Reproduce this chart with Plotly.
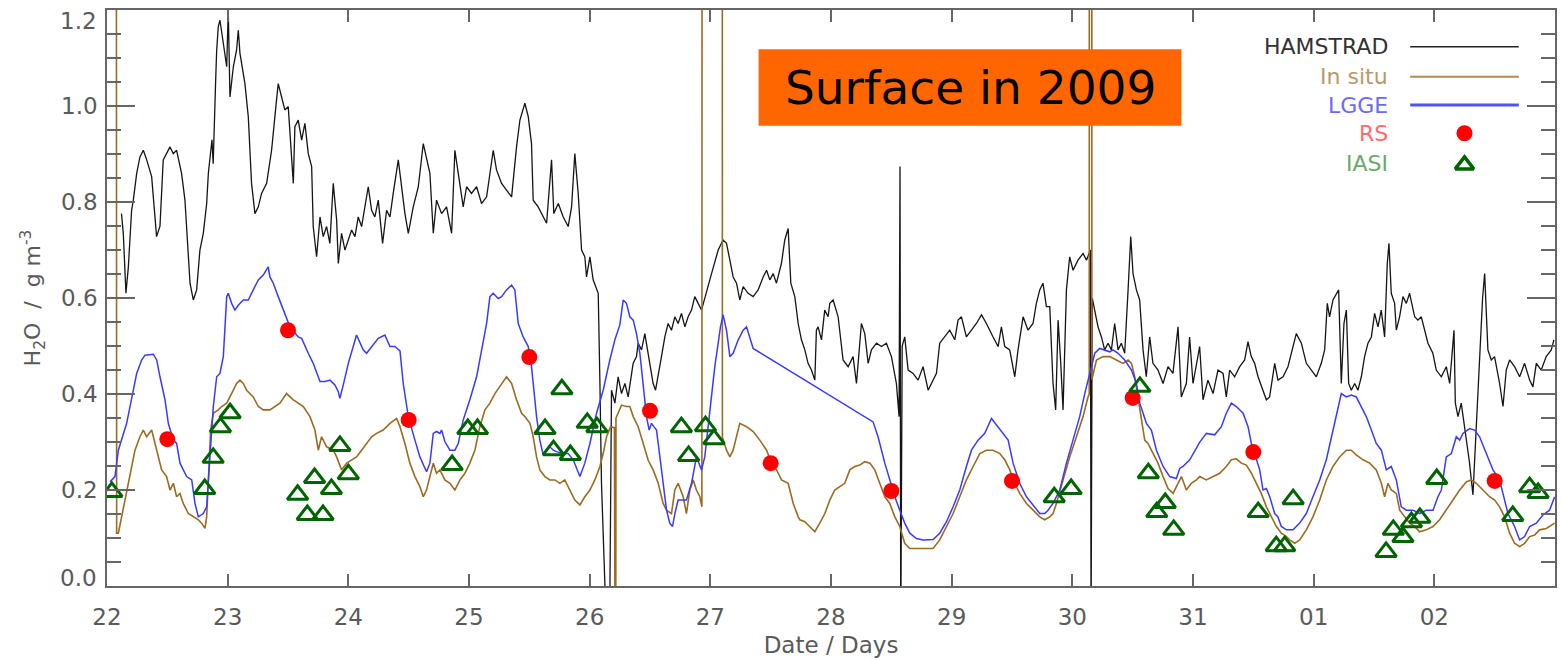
import plotly.graph_objects as go

# ---------------- data (days since start of month, g m-3) ----------------
ham_day = [22.12,22.135,22.157,22.177,22.204,22.218,22.246,22.273,22.301,22.329,22.37,22.411,22.439,22.466,22.522,22.549,22.577,22.618,22.646,22.688,22.715,22.743,22.77,22.798,22.826,22.84,22.87,22.88,22.9,22.909,22.922,22.936,22.964,22.992,23.005,23.019,23.047,23.074,23.088,23.102,23.143,23.171,23.198,23.226,23.254,23.281,23.323,23.364,23.405,23.419,23.447,23.474,23.502,23.53,23.544,23.557,23.585,23.613,23.64,23.668,23.696,23.709,23.737,23.765,23.792,23.82,23.847,23.875,23.903,23.917,23.944,23.972,23.999,24.027,24.055,24.082,24.11,24.138,24.165,24.193,24.22,24.248,24.284,24.317,24.345,24.372,24.414,24.469,24.497,24.538,24.58,24.621,24.648,24.676,24.704,24.731,24.773,24.814,24.856,24.883,24.911,24.952,24.98,25.021,25.063,25.104,25.146,25.201,25.228,25.27,25.311,25.353,25.394,25.422,25.463,25.491,25.518,25.532,25.573,25.615,25.643,25.684,25.703,25.74,25.781,25.822,25.85,25.877,25.905,25.933,25.96,25.974,26.002,26.029,26.057,26.071,26.085,26.098,26.14,26.165,26.181,26.209,26.236,26.264,26.292,26.319,26.36,26.388,26.402,26.43,26.457,26.479,26.499,26.526,26.546,26.568,26.595,26.623,26.65,26.678,26.706,26.733,26.761,26.789,26.816,26.844,26.871,26.899,26.927,27.01,27.065,27.106,27.134,27.162,27.189,27.217,27.244,27.272,27.313,27.355,27.396,27.438,27.466,27.493,27.521,27.548,27.589,27.617,27.645,27.667,27.7,27.728,27.755,27.783,27.81,27.838,27.866,27.879,27.893,27.921,27.948,27.976,27.99,28.018,28.059,28.1,28.142,28.183,28.211,28.252,28.28,28.308,28.335,28.377,28.418,28.459,28.501,28.542,28.564,28.572,28.578,28.59,28.611,28.639,28.68,28.722,28.763,28.805,28.832,28.874,28.901,28.943,28.984,29.026,29.053,29.081,29.122,29.164,29.205,29.247,29.288,29.343,29.385,29.412,29.44,29.481,29.523,29.55,29.592,29.633,29.674,29.702,29.73,29.757,29.785,29.813,29.84,29.862,29.882,29.904,29.923,29.951,29.978,30.006,30.047,30.089,30.117,30.15,30.155,30.165,30.186,30.213,30.241,30.268,30.296,30.324,30.351,30.379,30.406,30.434,30.462,30.484,30.503,30.531,30.558,30.586,30.613,30.641,30.668,30.71,30.752,30.793,30.834,30.876,30.903,30.945,30.972,31.0,31.055,31.083,31.124,31.166,31.207,31.249,31.276,31.304,31.345,31.387,31.428,31.456,31.483,31.511,31.539,31.58,31.608,31.635,31.677,31.704,31.746,31.787,31.829,31.856,31.898,31.939,31.981,32.022,32.063,32.091,32.113,32.132,32.16,32.188,32.207,32.229,32.251,32.271,32.29,32.312,32.34,32.367,32.395,32.422,32.45,32.478,32.505,32.533,32.56,32.588,32.61,32.624,32.643,32.671,32.685,32.712,32.74,32.768,32.795,32.837,32.864,32.892,32.92,32.947,32.988,33.016,33.058,33.099,33.127,33.163,33.174,33.196,33.223,33.25,33.29,33.32,33.34,33.37,33.4,33.417,33.444,33.472,33.499,33.541,33.569,33.596,33.624,33.665,33.707,33.748,33.79,33.817,33.845,33.886,33.927,33.969,33.991]
ham_val = [0.776,0.735,0.61,0.665,0.783,0.804,0.86,0.894,0.908,0.888,0.853,0.728,0.75,0.888,0.915,0.901,0.908,0.86,0.804,0.631,0.596,0.617,0.7,0.735,0.797,0.86,0.93,0.88,1.05,1.117,1.165,1.179,1.131,1.082,1.2,1.019,1.082,1.117,1.158,1.11,1.047,0.978,0.839,0.776,0.79,0.818,0.839,0.908,1.013,1.047,1.019,0.992,0.999,0.888,0.839,0.957,0.971,0.929,0.964,0.901,0.874,0.749,0.686,0.769,0.728,0.749,0.714,0.839,0.763,0.672,0.735,0.7,0.721,0.742,0.728,0.769,0.749,0.79,0.832,0.783,0.769,0.804,0.714,0.783,0.769,0.818,0.888,0.776,0.735,0.79,0.832,0.922,0.888,0.86,0.735,0.804,0.776,0.79,0.735,0.908,0.86,0.79,0.832,0.818,0.832,0.797,0.811,0.908,0.867,0.839,0.825,0.811,0.915,0.971,1.006,0.978,0.922,0.804,0.79,0.769,0.756,0.888,0.776,0.797,0.769,0.749,0.79,0.901,0.818,0.7,0.686,0.644,0.686,0.638,0.617,0.61,0.422,0.214,-0.1,-0.1,0.408,0.381,0.436,0.401,0.422,0.394,0.464,0.478,0.506,0.492,0.526,0.492,0.464,0.422,0.408,0.436,0.478,0.519,0.547,0.533,0.561,0.547,0.568,0.54,0.561,0.575,0.603,0.589,0.575,0.651,0.7,0.721,0.714,0.679,0.644,0.631,0.596,0.624,0.61,0.603,0.617,0.644,0.658,0.638,0.651,0.631,0.672,0.721,0.745,0.631,0.603,0.547,0.513,0.492,0.464,0.45,0.429,0.533,0.54,0.513,0.575,0.561,0.589,0.596,0.561,0.471,0.457,0.478,0.422,0.547,0.526,0.464,0.492,0.506,0.499,0.506,0.478,0.422,0.353,0.874,-0.1,0.5,0.519,0.45,0.443,0.429,0.457,0.408,0.422,0.443,0.506,0.519,0.533,0.513,0.554,0.561,0.519,0.533,0.547,0.565,0.547,0.519,0.499,0.54,0.499,0.492,0.436,0.492,0.561,0.533,0.547,0.589,0.617,0.631,0.582,0.582,0.422,0.367,0.554,0.464,0.367,0.617,0.686,0.658,0.679,0.693,0.679,0.7,-0.1,0.6,0.575,0.54,0.519,0.492,0.506,0.492,0.547,0.492,0.506,0.485,0.617,0.728,0.651,0.617,0.596,0.492,0.436,0.519,0.464,0.45,0.422,0.457,0.443,0.54,0.394,0.422,0.519,0.422,0.499,0.388,0.429,0.401,0.45,0.443,0.394,0.45,0.436,0.457,0.471,0.509,0.478,0.464,0.436,0.408,0.388,0.394,0.464,0.429,0.436,0.457,0.499,0.526,0.506,0.464,0.45,0.436,0.464,0.492,0.589,0.561,0.596,0.61,0.617,0.422,0.547,0.575,0.422,0.408,0.422,0.408,0.436,0.478,0.506,0.519,0.568,0.54,0.575,0.519,0.672,0.714,0.61,0.589,0.533,0.561,0.603,0.589,0.61,0.561,0.554,0.561,0.533,0.506,0.485,0.45,0.436,0.457,0.422,0.533,0.381,0.353,0.381,0.33,0.26,0.19,0.3,0.45,0.6,0.651,0.492,0.471,0.478,0.422,0.374,0.45,0.471,0.457,0.436,0.464,0.429,0.415,0.464,0.45,0.478,0.492,0.513]

insitu_day = [22.075,22.08,22.094,22.121,22.163,22.204,22.232,22.273,22.301,22.329,22.37,22.398,22.425,22.453,22.494,22.522,22.55,22.577,22.605,22.632,22.674,22.715,22.757,22.784,22.812,22.826,22.84,22.859,22.881,22.922,22.95,22.992,23.047,23.074,23.102,23.129,23.157,23.212,23.254,23.295,23.35,23.392,23.433,23.488,23.516,23.544,23.585,23.627,23.682,23.723,23.751,23.778,23.82,23.875,23.903,23.944,23.986,24.027,24.068,24.11,24.151,24.193,24.234,24.289,24.345,24.4,24.428,24.469,24.51,24.552,24.593,24.621,24.648,24.676,24.704,24.731,24.759,24.8,24.842,24.883,24.925,24.966,25.007,25.049,25.09,25.132,25.173,25.215,25.256,25.311,25.353,25.394,25.436,25.463,25.505,25.532,25.56,25.587,25.629,25.67,25.712,25.753,25.794,25.836,25.877,25.919,25.96,26.002,26.043,26.085,26.112,26.14,26.173,26.205,26.207,26.215,26.218,26.223,26.264,26.305,26.333,26.361,26.402,26.444,26.485,26.526,26.568,26.609,26.637,26.678,26.706,26.733,26.775,26.802,26.83,26.858,26.885,26.913,26.93,26.933,27.098,27.1,27.134,27.162,27.189,27.244,27.3,27.355,27.41,27.466,27.508,27.549,27.59,27.645,27.687,27.728,27.742,27.783,27.824,27.866,27.907,27.949,27.99,28.031,28.073,28.114,28.156,28.197,28.239,28.28,28.322,28.363,28.404,28.446,28.487,28.529,28.57,28.611,28.653,28.694,28.736,28.791,28.846,28.901,28.957,29.012,29.067,29.122,29.178,29.233,29.288,29.343,29.399,29.44,29.482,29.523,29.564,29.62,29.675,29.73,29.771,29.813,29.84,29.868,29.923,29.978,30.034,30.089,30.13,30.14,30.142,30.16,30.162,30.2,30.255,30.31,30.365,30.42,30.462,30.49,30.517,30.545,30.572,30.6,30.627,30.669,30.71,30.752,30.793,30.835,30.876,30.904,30.945,30.986,31.028,31.056,31.111,31.166,31.221,31.276,31.318,31.359,31.401,31.442,31.484,31.525,31.566,31.608,31.649,31.691,31.732,31.774,31.801,31.843,31.884,31.939,31.994,32.05,32.105,32.16,32.215,32.271,32.312,32.353,32.409,32.464,32.519,32.561,32.588,32.616,32.643,32.685,32.713,32.754,32.795,32.837,32.878,32.933,32.989,33.044,33.099,33.154,33.21,33.265,33.306,33.348,33.403,33.458,33.5,33.541,33.582,33.624,33.665,33.707,33.748,33.79,33.831,33.872,33.928,33.969,33.997]
insitu_val = [3.0,0.11,0.11,0.144,0.2,0.249,0.283,0.311,0.325,0.311,0.325,0.297,0.269,0.242,0.228,0.2,0.214,0.186,0.193,0.172,0.151,0.144,0.138,0.131,0.12,0.144,0.214,0.325,0.36,0.367,0.374,0.381,0.408,0.422,0.429,0.422,0.408,0.394,0.374,0.367,0.367,0.374,0.381,0.401,0.394,0.388,0.381,0.374,0.353,0.325,0.283,0.311,0.29,0.283,0.269,0.242,0.256,0.263,0.269,0.283,0.297,0.311,0.318,0.325,0.339,0.349,0.332,0.297,0.256,0.228,0.207,0.186,0.2,0.228,0.256,0.235,0.242,0.221,0.214,0.2,0.221,0.235,0.256,0.283,0.332,0.367,0.381,0.401,0.415,0.436,0.422,0.388,0.36,0.353,0.339,0.311,0.269,0.242,0.228,0.221,0.221,0.214,0.221,0.2,0.179,0.169,0.186,0.2,0.221,0.249,0.276,0.311,0.332,0.33,-0.5,-0.5,0.35,0.353,0.377,0.374,0.374,0.353,0.332,0.297,0.262,0.242,0.214,0.172,0.158,0.151,0.2,0.214,0.186,0.151,0.2,0.221,0.2,0.186,0.165,3.0,3.0,0.31,0.283,0.269,0.283,0.339,0.332,0.322,0.304,0.283,0.256,0.242,0.221,0.214,0.172,0.144,0.138,0.134,0.124,0.113,0.131,0.151,0.179,0.2,0.207,0.214,0.242,0.249,0.252,0.259,0.256,0.242,0.214,0.186,0.172,0.144,0.124,0.089,0.078,0.078,0.078,0.078,0.078,0.096,0.124,0.151,0.186,0.221,0.249,0.276,0.283,0.283,0.276,0.263,0.242,0.214,0.193,0.172,0.158,0.144,0.138,0.144,0.151,0.172,0.221,0.269,0.311,0.353,0.394,0.40,3.0,3.0,0.43,0.471,0.478,0.478,0.471,0.464,0.471,0.464,0.436,0.394,0.346,0.304,0.297,0.276,0.256,0.228,0.203,0.193,0.214,0.228,0.2,0.214,0.221,0.228,0.221,0.228,0.235,0.249,0.263,0.265,0.256,0.252,0.235,0.214,0.193,0.165,0.144,0.124,0.11,0.103,0.096,0.089,0.096,0.117,0.144,0.179,0.221,0.249,0.269,0.283,0.283,0.273,0.263,0.256,0.242,0.214,0.186,0.214,0.2,0.193,0.158,0.144,0.131,0.124,0.113,0.117,0.124,0.138,0.158,0.179,0.2,0.217,0.221,0.214,0.2,0.186,0.179,0.165,0.144,0.11,0.089,0.082,0.089,0.103,0.106,0.117,0.12,0.127,0.131]

lgge_day = [22.025,22.066,22.094,22.163,22.218,22.246,22.287,22.315,22.384,22.412,22.439,22.481,22.508,22.55,22.577,22.605,22.66,22.702,22.729,22.757,22.798,22.826,22.853,22.881,22.909,22.936,22.964,22.992,23.005,23.033,23.06,23.088,23.129,23.171,23.212,23.254,23.295,23.323,23.336,23.35,23.378,23.419,23.461,23.516,23.585,23.613,23.668,23.709,23.765,23.806,23.848,23.889,23.917,23.93,23.958,24.0,24.068,24.123,24.151,24.206,24.248,24.303,24.345,24.386,24.428,24.455,24.497,24.552,24.593,24.648,24.676,24.704,24.731,24.759,24.773,24.8,24.842,24.883,24.911,24.952,25.007,25.063,25.104,25.146,25.173,25.201,25.242,25.27,25.311,25.353,25.38,25.408,25.449,25.491,25.518,25.56,25.587,25.615,25.643,25.67,25.698,25.725,25.781,25.822,25.864,25.919,25.96,26.002,26.057,26.112,26.167,26.209,26.25,26.278,26.305,26.333,26.361,26.388,26.416,26.444,26.471,26.493,26.513,26.532,26.554,26.582,26.609,26.637,26.664,26.687,26.706,26.733,26.802,26.844,26.885,26.927,26.954,26.982,27.01,27.037,27.065,27.084,27.106,27.134,27.162,27.189,27.231,27.272,27.3,27.327,27.355,28.349,28.39,28.446,28.487,28.529,28.57,28.611,28.653,28.708,28.763,28.846,28.901,28.957,29.012,29.067,29.122,29.164,29.219,29.274,29.33,29.371,29.426,29.468,29.509,29.564,29.62,29.675,29.73,29.771,29.799,29.84,29.896,29.951,30.006,30.061,30.103,30.144,30.186,30.227,30.268,30.31,30.337,30.379,30.434,30.49,30.531,30.559,30.614,30.655,30.697,30.752,30.807,30.862,30.89,30.917,30.973,31.056,31.111,31.18,31.235,31.276,31.318,31.359,31.415,31.456,31.484,31.511,31.553,31.58,31.608,31.636,31.677,31.704,31.732,31.774,31.829,31.884,31.939,31.994,32.05,32.105,32.146,32.188,32.229,32.271,32.312,32.353,32.381,32.436,32.478,32.519,32.561,32.602,32.643,32.685,32.726,32.768,32.823,32.878,32.933,32.989,33.03,33.058,33.099,33.141,33.182,33.21,33.237,33.292,33.334,33.375,33.431,33.486,33.541,33.569,33.61,33.665,33.707,33.748,33.79,33.845,33.9,33.955,33.997]
lgge_val = [0.217,0.228,0.283,0.339,0.408,0.443,0.471,0.481,0.483,0.471,0.436,0.388,0.339,0.304,0.297,0.256,0.228,0.221,0.172,0.144,0.151,0.165,0.269,0.374,0.436,0.443,0.478,0.603,0.61,0.589,0.575,0.585,0.596,0.596,0.617,0.638,0.648,0.658,0.665,0.644,0.631,0.603,0.575,0.54,0.519,0.516,0.485,0.464,0.426,0.426,0.429,0.419,0.405,0.391,0.419,0.464,0.523,0.492,0.485,0.502,0.516,0.523,0.499,0.499,0.49,0.422,0.353,0.304,0.269,0.238,0.256,0.318,0.322,0.318,0.325,0.301,0.283,0.283,0.297,0.346,0.388,0.436,0.492,0.547,0.603,0.61,0.599,0.603,0.617,0.627,0.617,0.547,0.519,0.499,0.457,0.353,0.304,0.273,0.283,0.29,0.283,0.28,0.276,0.276,0.263,0.228,0.256,0.297,0.36,0.408,0.471,0.513,0.544,0.596,0.589,0.561,0.554,0.526,0.485,0.422,0.353,0.325,0.339,0.332,0.325,0.269,0.214,0.158,0.131,0.124,0.151,0.179,0.179,0.214,0.269,0.242,0.269,0.332,0.408,0.457,0.506,0.54,0.565,0.533,0.478,0.485,0.513,0.533,0.54,0.516,0.495,0.342,0.311,0.256,0.221,0.186,0.158,0.131,0.11,0.099,0.096,0.097,0.11,0.134,0.165,0.2,0.249,0.283,0.304,0.318,0.349,0.335,0.318,0.304,0.256,0.214,0.186,0.169,0.151,0.151,0.158,0.172,0.2,0.256,0.304,0.353,0.401,0.443,0.485,0.495,0.492,0.488,0.492,0.485,0.471,0.45,0.422,0.381,0.339,0.325,0.283,0.249,0.228,0.224,0.245,0.249,0.263,0.3,0.318,0.315,0.332,0.36,0.381,0.374,0.36,0.332,0.297,0.276,0.242,0.2,0.203,0.186,0.151,0.144,0.124,0.117,0.117,0.131,0.151,0.186,0.221,0.263,0.311,0.36,0.401,0.394,0.398,0.394,0.381,0.353,0.325,0.297,0.283,0.242,0.249,0.221,0.165,0.158,0.158,0.151,0.158,0.158,0.186,0.2,0.269,0.276,0.311,0.304,0.318,0.328,0.325,0.311,0.276,0.242,0.221,0.193,0.151,0.124,0.096,0.103,0.124,0.131,0.148,0.158,0.186]

rs_day = [22.5,23.5,24.5,25.5,26.5,27.5,28.5,29.5,30.5,31.5,33.5]
rs_val = [0.306,0.533,0.346,0.477,0.365,0.256,0.198,0.219,0.392,0.279,0.219]

iasi_day = [22.04,22.81,22.88,22.94,23.02,23.58,23.66,23.72,23.79,23.86,23.93,24.0,24.86,24.99,25.07,25.63,25.70,25.77,25.84,25.98,26.06,26.76,26.82,26.96,27.03,29.85,29.99,30.56,30.63,30.70,30.77,30.84,31.54,31.69,31.76,31.83,32.60,32.66,32.74,32.81,32.88,33.02,33.65,33.79,33.86]
iasi_val = [0.196,0.202,0.267,0.331,0.36,0.19,0.148,0.225,0.148,0.202,0.292,0.233,0.252,0.327,0.327,0.327,0.283,0.41,0.273,0.34,0.331,0.331,0.271,0.333,0.306,0.185,0.202,0.415,0.235,0.154,0.173,0.117,0.154,0.083,0.083,0.181,0.071,0.117,0.102,0.133,0.142,0.223,0.146,0.206,0.194]

tick_days = list(range(22, 34))
tick_text = ["22", "23", "24", "25", "26", "27", "28", "29", "30", "31", "01", "02"]
y_ticks = [0.0, 0.2, 0.4, 0.6, 0.8, 1.0, 1.2]
# the two end labels are drawn separately (nudged inside the frame as in the original)
y_tick_text = ["", "0.2", "0.4", "0.6", "0.8", "1.0", ""]
y_end_labels = ["0.0", "1.2"]

legend_names = ["HAMSTRAD", "In situ", "LGGE", "RS", "IASI"]
legend_text_colors = ["#333333", "#B8996A", "#6A6AFF", "#FF6A6A", "#6AAA6A"]

C_HAM = "#151515"
C_INSITU = "#9C6B22"
C_LGGE = "#3A3AFF"
C_RS = "#FF0000"
C_IASI = "#006400"
AX = "#666666"
TXT = "#5a5a5a"
FONT = "DejaVu Sans"

fig = go.Figure()
fig.add_trace(go.Scatter(x=ham_day, y=ham_val, mode="lines", line=dict(color=C_HAM, width=1.3), name="HAMSTRAD"))
fig.add_trace(go.Scatter(x=insitu_day, y=insitu_val, mode="lines", line=dict(color=C_INSITU, width=1.6), name="In situ"))
fig.add_trace(go.Scatter(x=lgge_day, y=lgge_val, mode="lines", line=dict(color=C_LGGE, width=1.5), name="LGGE"))
fig.add_trace(go.Scatter(x=rs_day, y=rs_val, mode="markers", marker=dict(color=C_RS, size=16), name="RS"))
fig.add_trace(go.Scatter(x=iasi_day, y=iasi_val, mode="markers",
                         marker=dict(symbol="triangle-up-open", color=C_IASI, size=18, line=dict(width=3, color=C_IASI)),
                         name="IASI"))

# legend samples on an overlay [0,1] axis pair
fig.add_trace(go.Scatter(x=[0.9375], y=[0.786], mode="markers", marker=dict(color=C_RS, size=16),
                         xaxis="x2", yaxis="y2", hoverinfo="skip"))
fig.add_trace(go.Scatter(x=[0.9375], y=[0.731], mode="markers",
                         marker=dict(symbol="triangle-up-open", color=C_IASI, size=16, line=dict(width=3.5, color=C_IASI)),
                         xaxis="x2", yaxis="y2", hoverinfo="skip"))

leg_y = [0.936, 0.884, 0.835, 0.786, 0.734]
annotations = []
for name, col, yy in zip(legend_names, legend_text_colors, leg_y):
    annotations.append(dict(x=0.886, y=yy, xref="paper", yref="paper", text=name, showarrow=False,
                            xanchor="right", yanchor="middle", font=dict(family=FONT, size=22, color=col)))
annotations.append(dict(x=0.596, y=0.866, xref="paper", yref="paper", text="Surface in 2009", showarrow=False,
                        xanchor="center", yanchor="middle", font=dict(family=FONT, size=47, color="#000000")))
# end tick labels of the y axis
annotations.append(dict(x=-0.0055, y=y_ticks[0], xref="paper", yref="y", text=y_end_labels[0], showarrow=False,
                        xanchor="right", yanchor="middle", yshift=8, font=dict(family=FONT, size=23, color=TXT)))
annotations.append(dict(x=-0.0055, y=y_ticks[-1], xref="paper", yref="y", text=y_end_labels[1], showarrow=False,
                        xanchor="right", yanchor="middle", yshift=-11, font=dict(family=FONT, size=23, color=TXT)))

shapes = [
    dict(type="rect", xref="paper", yref="paper", x0=0.450, x1=0.742, y0=0.799, y1=0.932,
         fillcolor="#FF6600", line=dict(width=0), layer="above"),
    dict(type="line", xref="paper", yref="paper", x0=0.900, x1=0.975, y0=leg_y[0], y1=leg_y[0],
         line=dict(color="#222222", width=1.5)),
    dict(type="line", xref="paper", yref="paper", x0=0.900, x1=0.975, y0=leg_y[1], y1=leg_y[1],
         line=dict(color="#B08850", width=2)),
    dict(type="line", xref="paper", yref="paper", x0=0.900, x1=0.975, y0=leg_y[2], y1=leg_y[2],
         line=dict(color="#5050FF", width=3)),
]

fig.update_layout(
    width=1561, height=660,
    margin=dict(l=107, r=6, t=10, b=74, autoexpand=False),
    paper_bgcolor="white", plot_bgcolor="white",
    showlegend=False,
    annotations=annotations,
    shapes=shapes,
    xaxis=dict(range=[22, 34], tickmode="array", tickvals=tick_days, ticktext=tick_text,
               ticks="inside", ticklen=12, tickwidth=1.5, tickcolor=AX, automargin=False,
               showline=True, linecolor=AX, linewidth=1.5, mirror="allticks",
               showgrid=False, zeroline=False, ticklabelstandoff=10,
               tickfont=dict(family=FONT, size=23, color=TXT),
               title=dict(text="Date / Days", font=dict(family=FONT, size=23, color=TXT), standoff=8)),
    yaxis=dict(range=[0, 1.2003], tickmode="array", tickvals=y_ticks, ticktext=y_tick_text,
               ticks="inside", ticklen=28, tickwidth=1.5, tickcolor=AX, automargin=False,
               minor=dict(dtick=0.05, ticks="inside", ticklen=14, tickwidth=1.5, tickcolor=AX),
               showline=True, linecolor=AX, linewidth=1.5, mirror="allticks",
               showgrid=False, zeroline=False, ticklabelstandoff=3,
               tickfont=dict(family=FONT, size=23, color=TXT),
               title=dict(text="H<sub>2</sub>O  /  g m<sup>-3</sup>", font=dict(family=FONT, size=22, color=TXT), standoff=14)),
    xaxis2=dict(overlaying="x", range=[0, 1], visible=False),
    yaxis2=dict(overlaying="y", range=[0, 1], visible=False),
)

fig.write_html("out.html")
